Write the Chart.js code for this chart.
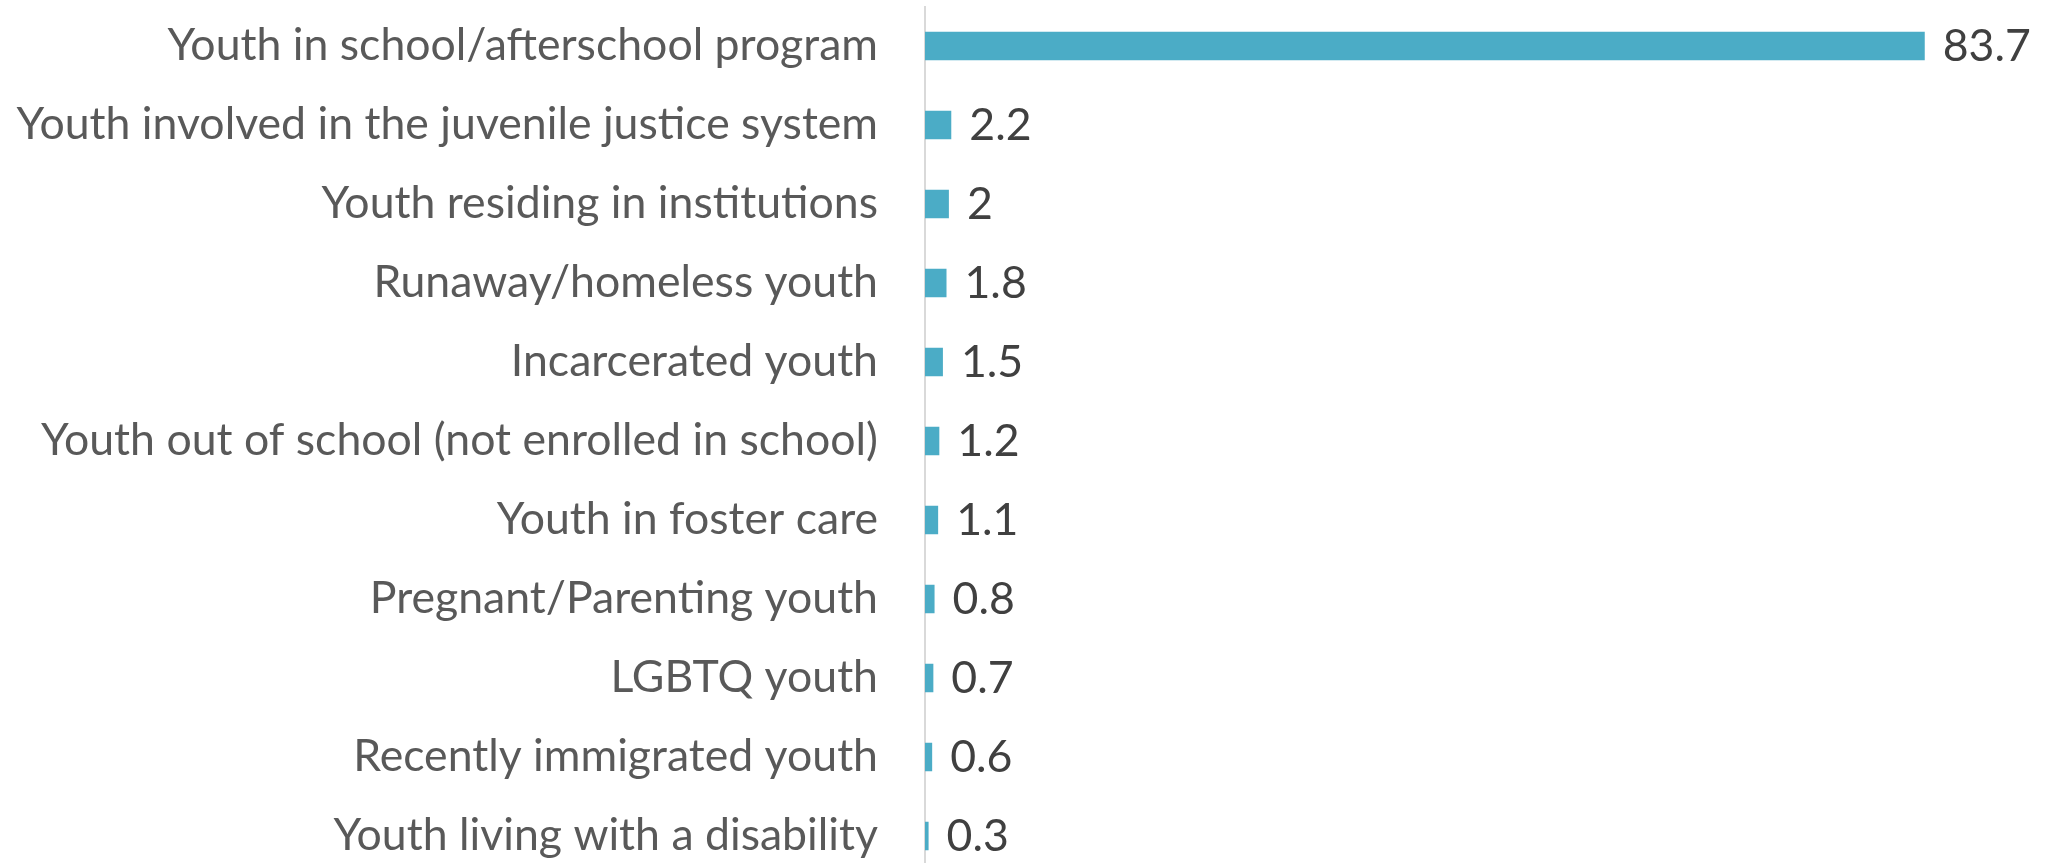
<!DOCTYPE html>
<html>
<head>
<meta charset="utf-8">
<script src="https://cdn.jsdelivr.net/npm/chart.js@4.4.1/dist/chart.umd.min.js"></script>
<style>
  html, body { margin: 0; padding: 0; background: #ffffff; overflow: hidden; }
  #wrap { width: 2049px; height: 876px; }
</style>
</head>
<body>
<div id="wrap"><canvas id="c" width="2049" height="876"></canvas></div>
<script>
const categories = [
  "Youth in school/afterschool program",
  "Youth involved in the juvenile justice system",
  "Youth residing in institutions",
  "Runaway/homeless youth",
  "Incarcerated youth",
  "Youth out of school (not enrolled in school)",
  "Youth in foster care",
  "Pregnant/Parenting youth",
  "LGBTQ youth",
  "Recently immigrated youth",
  "Youth living with a disability"
];
const values = [83.7, 2.2, 2, 1.8, 1.5, 1.2, 1.1, 0.8, 0.7, 0.6, 0.3];
const valueLabels = ["83.7", "2.2", "2", "1.8", "1.5", "1.2", "1.1", "0.8", "0.7", "0.6", "0.3"];

const FAMILY = "Lato";
// choose font size so the longest category label spans the same width as in the reference
const mctx = document.createElement("canvas").getContext("2d");
mctx.font = "100px " + FAMILY;
let maxW = 0;
categories.forEach(c => { maxW = Math.max(maxW, mctx.measureText(c).width); });
const FONT_SIZE = Math.round(100 * 862 / maxW * 10) / 10;

const valueLabelPlugin = {
  id: "valueLabels",
  afterDatasetsDraw(chart) {
    const ctx = chart.ctx;
    const meta = chart.getDatasetMeta(0);
    ctx.save();
    ctx.font = FONT_SIZE + "px " + FAMILY;
    ctx.fillStyle = "#404040";
    ctx.textAlign = "left";
    ctx.textBaseline = "middle";
    meta.data.forEach((bar, i) => {
      ctx.fillText(valueLabels[i], bar.x + 18, bar.y + 1);
    });
    ctx.restore();
  }
};

new Chart(document.getElementById("c"), {
  type: "bar",
  data: {
    labels: categories,
    datasets: [{
      data: values,
      backgroundColor: "#4BACC6",
      borderWidth: 0,
      barPercentage: 0.36,
      categoryPercentage: 1
    }]
  },
  options: {
    indexAxis: "y",
    responsive: false,
    devicePixelRatio: 1,
    animation: false,
    layout: { padding: { left: 0, right: 49, top: 6.5, bottom: 0.5 } },
    plugins: {
      legend: { display: false },
      tooltip: { enabled: false }
    },
    scales: {
      x: {
        display: false,
        min: 0,
        max: 90
      },
      y: {
        afterFit(scale) {
          scale.width = 925;
          scale.paddingTop = 0;
          scale.paddingBottom = 0;
        },
        grid: { display: false, drawTicks: false },
        border: { display: true, color: "#d9d9d9", width: 2 },
        ticks: {
          padding: 47,
          color: "#595959",
          font: { family: FAMILY, size: FONT_SIZE }
        }
      }
    }
  },
  plugins: [valueLabelPlugin]
});
</script>
</body>
</html>
